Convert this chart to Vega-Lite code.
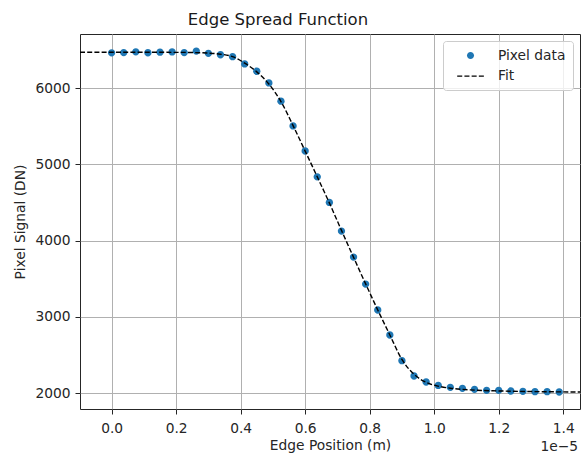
{
  "$schema": "https://vega.github.io/schema/vega-lite/v6.json",
  "width": 500,
  "height": 375,
  "autosize": {"type": "none"},
  "padding": {"left": 80, "top": 34, "right": 5, "bottom": 46},
  "background": "white",
  "title": {
    "text": "Edge Spread Function",
    "fontSize": 16.5,
    "fontWeight": "normal",
    "font": "DejaVu Sans",
    "color": "#1a1a1a",
    "anchor": "middle",
    "dx": -52,
    "offset": -7,
    "baseline": "alphabetic"
  },
  "config": {
    "font": "DejaVu Sans",
    "view": {"stroke": "#262626", "strokeWidth": 1},
    "axis": {
      "domain": false,
      "grid": true,
      "gridColor": "#b0b0b0",
      "gridWidth": 1,
      "tickColor": "#262626",
      "tickSize": 5,
      "tickWidth": 1,
      "labelFont": "DejaVu Sans",
      "labelFontSize": 13.8,
      "labelColor": "#262626",
      "titleFont": "DejaVu Sans",
      "titleFontSize": 13.8,
      "titleFontWeight": "normal",
      "titleColor": "#262626"
    },
    "legend": {
      "orient": "top-right",
      "offset": 7,
      "padding": 7,
      "fillColor": "rgba(255,255,255,0.8)",
      "strokeColor": "#cccccc",
      "cornerRadius": 3,
      "labelFont": "DejaVu Sans",
      "labelFontSize": 13.8,
      "labelColor": "#262626",
      "labelOffset": 20,
      "rowPadding": 5.6,
      "symbolSize": 200,
      "symbolOffset": 13,
      "symbolOpacity": 1,
      "symbolStrokeWidth": 0
    }
  },
  "datasets": {
    "pixel": [
      {"position_m": 0, "signal_dn": 6465},
      {"position_m": 3.75e-7, "signal_dn": 6468},
      {"position_m": 7.5e-7, "signal_dn": 6478},
      {"position_m": 1.125e-6, "signal_dn": 6466},
      {"position_m": 1.5e-6, "signal_dn": 6474},
      {"position_m": 1.875e-6, "signal_dn": 6477},
      {"position_m": 2.25e-6, "signal_dn": 6468},
      {"position_m": 2.625e-6, "signal_dn": 6488},
      {"position_m": 3e-6, "signal_dn": 6458},
      {"position_m": 3.375e-6, "signal_dn": 6440},
      {"position_m": 3.75e-6, "signal_dn": 6415},
      {"position_m": 4.125e-6, "signal_dn": 6319},
      {"position_m": 4.5e-6, "signal_dn": 6223},
      {"position_m": 4.875e-6, "signal_dn": 6070},
      {"position_m": 5.25e-6, "signal_dn": 5830},
      {"position_m": 5.625e-6, "signal_dn": 5506},
      {"position_m": 6e-6, "signal_dn": 5176},
      {"position_m": 6.375e-6, "signal_dn": 4837},
      {"position_m": 6.75e-6, "signal_dn": 4501},
      {"position_m": 7.125e-6, "signal_dn": 4125},
      {"position_m": 7.5e-6, "signal_dn": 3784},
      {"position_m": 7.875e-6, "signal_dn": 3430},
      {"position_m": 8.25e-6, "signal_dn": 3089},
      {"position_m": 8.625e-6, "signal_dn": 2761},
      {"position_m": 9e-6, "signal_dn": 2424},
      {"position_m": 9.375e-6, "signal_dn": 2223},
      {"position_m": 9.75e-6, "signal_dn": 2144},
      {"position_m": 1.0125e-5, "signal_dn": 2100},
      {"position_m": 1.05e-5, "signal_dn": 2074},
      {"position_m": 1.0875e-5, "signal_dn": 2061},
      {"position_m": 1.125e-5, "signal_dn": 2048},
      {"position_m": 1.1625e-5, "signal_dn": 2035},
      {"position_m": 1.2e-5, "signal_dn": 2035},
      {"position_m": 1.2375e-5, "signal_dn": 2026},
      {"position_m": 1.275e-5, "signal_dn": 2022},
      {"position_m": 1.3125e-5, "signal_dn": 2017},
      {"position_m": 1.35e-5, "signal_dn": 2017},
      {"position_m": 1.3875e-5, "signal_dn": 2013}
    ],
    "fit": [
      {"position_m": -9.8e-7, "signal_dn": 6472},
      {"position_m": 0, "signal_dn": 6472},
      {"position_m": 1e-6, "signal_dn": 6472},
      {"position_m": 2e-6, "signal_dn": 6471},
      {"position_m": 2.5e-6, "signal_dn": 6469},
      {"position_m": 3e-6, "signal_dn": 6461},
      {"position_m": 3.375e-6, "signal_dn": 6447},
      {"position_m": 3.75e-6, "signal_dn": 6415},
      {"position_m": 4.125e-6, "signal_dn": 6330},
      {"position_m": 4.5e-6, "signal_dn": 6215},
      {"position_m": 4.875e-6, "signal_dn": 6055},
      {"position_m": 5.25e-6, "signal_dn": 5825},
      {"position_m": 5.625e-6, "signal_dn": 5510},
      {"position_m": 6e-6, "signal_dn": 5175},
      {"position_m": 6.375e-6, "signal_dn": 4838},
      {"position_m": 6.75e-6, "signal_dn": 4495},
      {"position_m": 7.125e-6, "signal_dn": 4135},
      {"position_m": 7.5e-6, "signal_dn": 3782},
      {"position_m": 7.875e-6, "signal_dn": 3432},
      {"position_m": 8.25e-6, "signal_dn": 3090},
      {"position_m": 8.625e-6, "signal_dn": 2762},
      {"position_m": 9e-6, "signal_dn": 2440},
      {"position_m": 9.375e-6, "signal_dn": 2245},
      {"position_m": 9.75e-6, "signal_dn": 2140},
      {"position_m": 1.0125e-5, "signal_dn": 2090},
      {"position_m": 1.05e-5, "signal_dn": 2063},
      {"position_m": 1.0875e-5, "signal_dn": 2048},
      {"position_m": 1.125e-5, "signal_dn": 2038},
      {"position_m": 1.2e-5, "signal_dn": 2027},
      {"position_m": 1.3e-5, "signal_dn": 2019},
      {"position_m": 1.452e-5, "signal_dn": 2013}
    ]
  },
  "layer": [
    {
      "data": {"name": "pixel"},
      "mark": {"type": "point", "filled": true, "opacity": 1, "size": 215, "clip": true},
      "encoding": {
        "x": {
          "field": "position_m",
          "type": "quantitative",
          "scale": {"domain": [-9.8e-7, 1.452e-5], "nice": false, "zero": false},
          "axis": {
            "values": [0, 2e-6, 4e-6, 6e-6, 8e-6, 1e-5, 1.2e-5, 1.4e-5],
            "labelExpr": "format(datum.value * 100000, '.1f')",
            "title": "Edge Position (m)",
            "labelPadding": 7,
            "titlePadding": 4
          }
        },
        "y": {
          "field": "signal_dn",
          "type": "quantitative",
          "scale": {"domain": [1790, 6712], "nice": false, "zero": false},
          "axis": {
            "values": [2000, 3000, 4000, 5000, 6000],
            "format": "d",
            "title": "Pixel Signal (DN)",
            "labelPadding": 5,
            "titlePadding": 7
          }
        },
        "color": {
          "datum": "Pixel data",
          "scale": {"domain": ["Pixel data", "Fit"], "range": ["#1f77b4", "#000000"]},
          "legend": {"title": null}
        },
        "shape": {
          "datum": "Pixel data",
          "scale": {
            "domain": ["Pixel data", "Fit"],
            "range": [
              "M0.5,0A0.5,0.5,0,1,1,-0.5,0A0.5,0.5,0,1,1,0.5,0Z",
              "M-1.88,-0.1H-1.17V0.1H-1.88ZM-0.86,-0.1H-0.15V0.1H-0.86ZM0.16,-0.1H0.87V0.1H0.16ZM1.18,-0.1H1.89V0.1H1.18Z"
            ]
          },
          "legend": {"title": null}
        }
      }
    },
    {
      "data": {"name": "fit"},
      "mark": {"type": "line", "strokeDash": [5, 2.2], "strokeWidth": 1.4, "interpolate": "monotone", "clip": true},
      "encoding": {
        "x": {"field": "position_m", "type": "quantitative"},
        "y": {"field": "signal_dn", "type": "quantitative"},
        "color": {"datum": "Fit"}
      }
    },
    {
      "data": {"values": [{}]},
      "mark": {"type": "text", "text": "1e−5", "align": "right", "baseline": "alphabetic", "dx": -2, "dy": 42, "fontSize": 13.8, "color": "#262626", "font": "DejaVu Sans"},
      "encoding": {
        "x": {"datum": 1.452e-5, "type": "quantitative"},
        "y": {"datum": 1790, "type": "quantitative"}
      }
    }
  ]
}
